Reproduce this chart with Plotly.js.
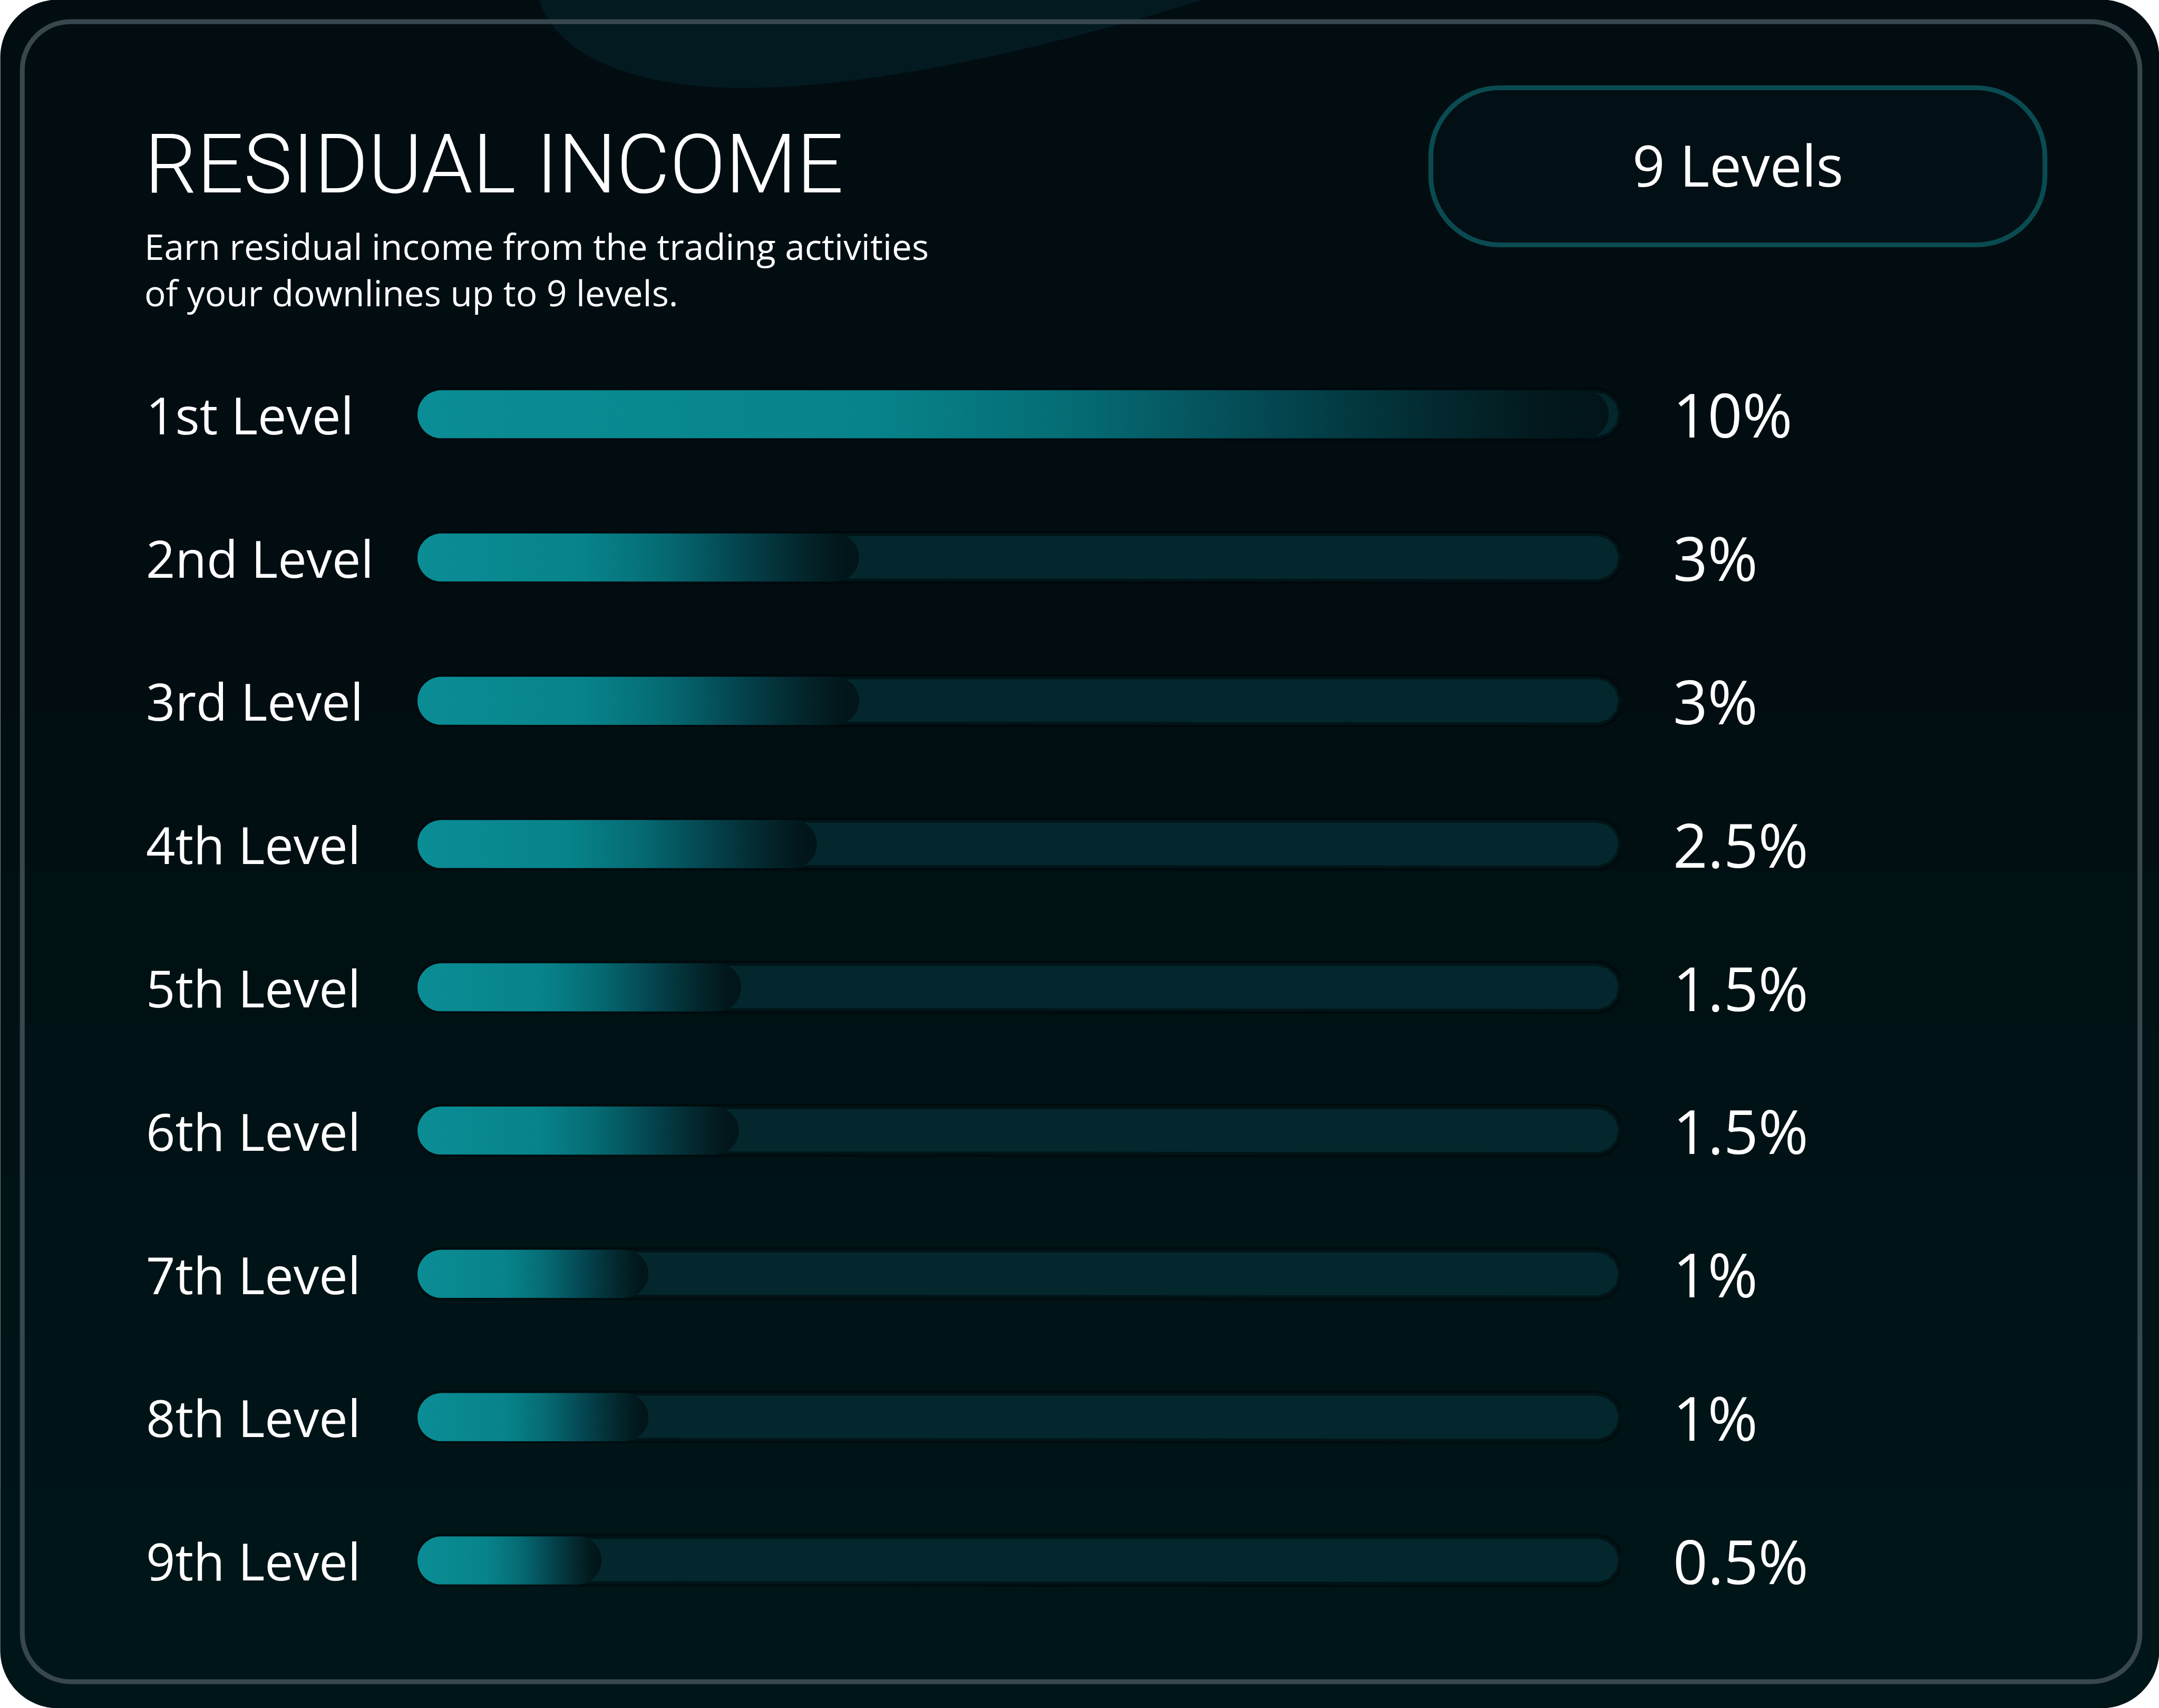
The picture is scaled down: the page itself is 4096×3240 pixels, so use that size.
<!DOCTYPE html>
<html>
<head>
<meta charset="utf-8">
<script src="https://cdn.plot.ly/plotly-3.0.1.min.js"></script>
<style>
  html, body { margin: 0; padding: 0; background: #ffffff; }
  #chart { width: 4096px; height: 3240px; }
</style>
</head>
<body>
<div id="chart"></div>
<script>
// ---------------- DATA ----------------
const levels = ["1st Level", "2nd Level", "3rd Level", "4th Level", "5th Level",
                "6th Level", "7th Level", "8th Level", "9th Level"];
const rates = [10, 3, 3, 2.5, 1.5, 1.5, 1, 1, 0.5];            // commission, %
const barFill = [99, 36.7, 36.7, 33.2, 26.9, 26.7, 19.2, 19.2, 15.3]; // drawn fill, % of track
const trackFull = 100;
const titleText = "RESIDUAL INCOME";
const subtitleLines = ["Earn residual income from the trading activities",
                       "of your downlines up to 9 levels."];
const badgeText = "9 Levels";

// ---------------- LAYOUT GEOMETRY (output px) ----------------
const W = 4096, H = 3240, S = 4096 / 1568;
const plotL = 303 * S, plotR = 1177 * S, plotT = 249 * S, plotB = 1185 * S;
const plotW = plotR - plotL, plotH = plotB - plotT;
const barHalfPx = 17.5 * S;
const RX = barHalfPx / (plotW / trackFull);
const RY = barHalfPx / (plotH / levels.length);

const px2x = px => (px - plotL) / plotW;
const py2y = py => (plotB - py) / plotH;

function pill(v, yc) {
  const xs = [], ys = [];
  const rx = Math.min(RX, v / 2), n = 24;
  for (let k = 0; k <= n; k++) {
    const a = -Math.PI / 2 + Math.PI * k / n;
    xs.push(v - rx + rx * Math.cos(a)); ys.push(yc + RY * Math.sin(a));
  }
  for (let k = 0; k <= n; k++) {
    const a = Math.PI / 2 + Math.PI * k / n;
    xs.push(rx + rx * Math.cos(a)); ys.push(yc + RY * Math.sin(a));
  }
  xs.push(xs[0]); ys.push(ys[0]);
  return { xs, ys };
}

const P = (x, y) => px2x(x).toFixed(5) + "," + py2y(y).toFixed(5);
function roundRectPath(x0, y0, x1, y1, r) {
  const k = 0.5523 * r;
  return "M" + P(x0 + r, y0) +
    " L" + P(x1 - r, y0) +
    " C" + P(x1 - r + k, y0) + " " + P(x1, y0 + r - k) + " " + P(x1, y0 + r) +
    " L" + P(x1, y1 - r) +
    " C" + P(x1, y1 - r + k) + " " + P(x1 - r + k, y1) + " " + P(x1 - r, y1) +
    " L" + P(x0 + r, y1) +
    " C" + P(x0 + r - k, y1) + " " + P(x0, y1 - r + k) + " " + P(x0, y1 - r) +
    " L" + P(x0, y0 + r) +
    " C" + P(x0, y0 + r - k) + " " + P(x0 + r - k, y0) + " " + P(x0 + r, y0) + " Z";
}
function bottomPanelPath(y0, r) {
  const k = 0.5523 * r;
  return "M" + P(0, y0) + " L" + P(W, y0) + " L" + P(W, H - r) +
    " C" + P(W, H - r + k) + " " + P(W - r + k, H) + " " + P(W - r, H) +
    " L" + P(r, H) +
    " C" + P(r - k, H) + " " + P(0, H - r + k) + " " + P(0, H - r) + " Z";
}
function blobPath() {
  const Q = (x, y) => P(x * S, y * S);
  return "M" + Q(390, -5) + " C" + Q(400, 40) + " " + Q(460, 66) + " " + Q(549, 64) +
         " C" + Q(650, 62) + " " + Q(780, 30) + " " + Q(890, -5) + " Z";
}

// ---------------- TRACES ----------------
const traces = [];
let tx = [], ty = [];
levels.forEach((_, i) => {
  const p = pill(trackFull, i);
  tx = tx.concat(p.xs, [null]); ty = ty.concat(p.ys, [null]);
});
traces.push({
  type: "scatter", mode: "lines", x: tx, y: ty, fill: "toself",
  fillcolor: "#03272d", line: { width: 10, color: "rgba(0,7,10,0.55)" },
  hoverinfo: "skip", showlegend: false
});
const grad = [[0, "#0b8d95"], [0.38, "#07838b"], [0.56, "#056a72"], [0.72, "#044650"],
              [0.86, "#03282e"], [0.95, "#02181c"], [1, "#021418"]];
levels.forEach((name, i) => {
  const p = pill(barFill[i], i);
  traces.push({
    type: "scatter", mode: "lines", x: p.xs, y: p.ys, fill: "toself", name: name,
    fillcolor: "#087f88", fillgradient: { type: "horizontal", colorscale: grad },
    line: { width: 0, color: "rgba(0,0,0,0)" }, hoverinfo: "skip", showlegend: false
  });
});

// ---------------- ANNOTATIONS ----------------
const annotations = [];
levels.forEach((name, i) => {
  annotations.push({
    text: name, xref: "paper", yref: "y", x: px2x(105 * S), y: i,
    xanchor: "left", yanchor: "middle", showarrow: false,
    font: { family: "Open Sans", size: 97, color: "#ffffff" }
  });
  annotations.push({
    text: rates[i] + "%", xref: "paper", yref: "y", x: px2x(1214 * S), y: i,
    xanchor: "left", yanchor: "middle", showarrow: false,
    font: { family: "Open Sans", size: 115, color: "#ffffff" }
  });
});
annotations.push({
  text: subtitleLines.join("<br>"), xref: "paper", yref: "paper",
  x: px2x(104 * S), y: py2y(196 * S), xanchor: "left", yanchor: "middle", align: "left",
  showarrow: false, font: { family: "Open Sans", size: 67.5, color: "#ffffff" }
});
annotations.push({
  text: badgeText, xref: "paper", yref: "paper",
  x: px2x(1262 * S), y: py2y(120 * S), xanchor: "center", yanchor: "middle",
  showarrow: false, font: { family: "Open Sans", size: 108, color: "#ffffff" }
});

// ---------------- SHAPES ----------------
const shapes = [
  { type: "path", xref: "paper", yref: "paper", layer: "below",
    path: roundRectPath(0, 0, W, H, 42 * S), fillcolor: "#020d12", line: { width: 0 } }
];
for (let k = 0; k < 6; k++) {
  shapes.push({ type: "path", xref: "paper", yref: "paper", layer: "below",
    path: bottomPanelPath(H * (0.42 + 0.09 * k), 42 * S),
    fillcolor: "#03282f", opacity: 0.065, line: { width: 0 } });
}
shapes.push(
  { type: "path", xref: "paper", yref: "paper", layer: "below",
    path: blobPath(), fillcolor: "#031a20", line: { width: 0 } },
  { type: "path", xref: "paper", yref: "paper", layer: "below",
    path: roundRectPath(16 * S, 16 * S, 1554 * S, 1221 * S, 35 * S),
    fillcolor: "rgba(0,0,0,0)", line: { width: 3.5 * S, color: "#37474d" } },
  { type: "path", xref: "paper", yref: "paper", layer: "below",
    path: roundRectPath(1039 * S, 64 * S, 1485 * S, 178 * S, 50 * S),
    fillcolor: "#020f14", line: { width: 3.5 * S, color: "#0a4b51" } }
);

const layout = {
  width: W, height: H,
  margin: { l: plotL, r: W - plotR, t: plotT, b: H - plotB, pad: 0, autoexpand: false },
  paper_bgcolor: "#ffffff", plot_bgcolor: "rgba(0,0,0,0)",
  title: {
    text: titleText, xref: "container", yref: "container",
    x: (105 * S) / W, xanchor: "left", y: 1 - (119 * S) / H, yanchor: "middle",
    font: { family: "Roboto", size: 156, weight: 300, color: "#ffffff" }
  },
  xaxis: { range: [0, trackFull], visible: false, fixedrange: true },
  yaxis: { range: [levels.length - 0.5, -0.5], visible: false, fixedrange: true },
  showlegend: false, hovermode: false,
  shapes: shapes, annotations: annotations
};

Plotly.newPlot("chart", traces, layout, { staticPlot: true, displayModeBar: false });
</script>
</body>
</html>
